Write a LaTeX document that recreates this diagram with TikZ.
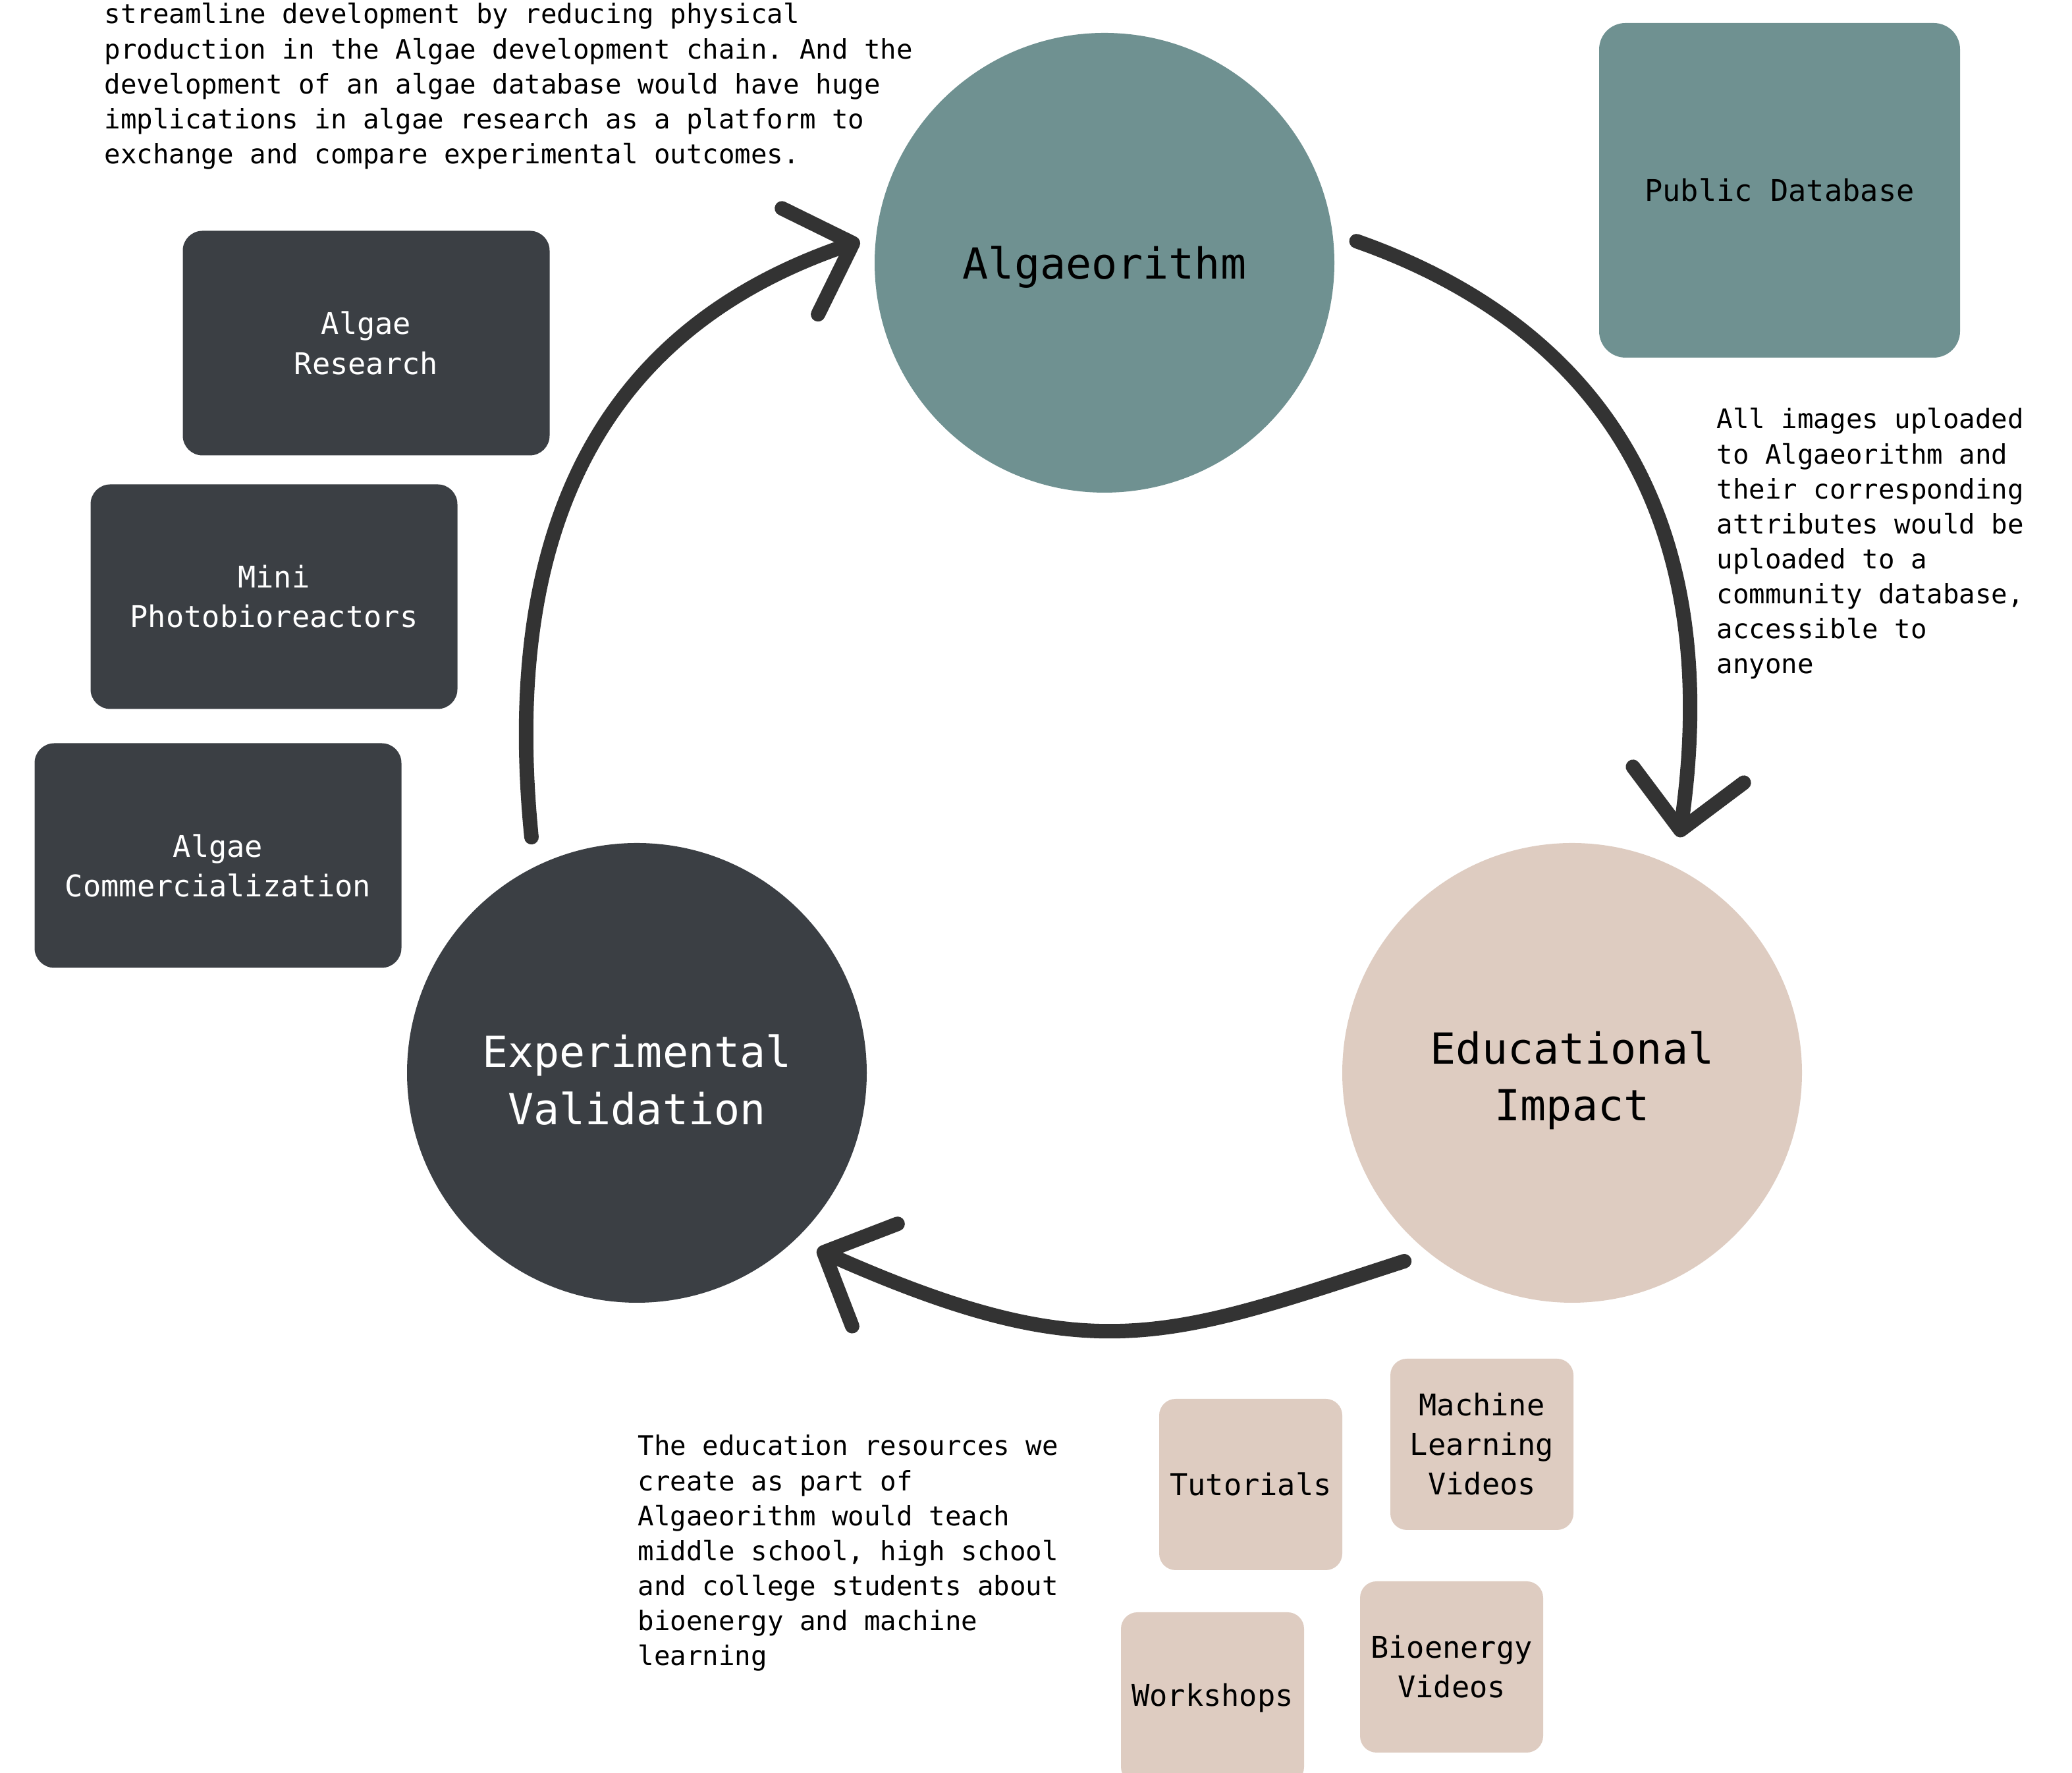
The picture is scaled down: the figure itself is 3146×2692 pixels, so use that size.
\documentclass[tikz,border=0pt]{standalone}
\usepackage{fontspec}
\setmainfont{DejaVu Sans Mono}
\usetikzlibrary{arrows.meta,calc}
\definecolor{algteal}{RGB}{111,145,145}
\definecolor{slate}{RGB}{59,63,68}
\definecolor{sand}{RGB}{222,204,193}
\definecolor{ink}{RGB}{51,51,51}
\begin{document}
\begin{tikzpicture}[x=0.1mm, y=0.1mm, line join=round, line cap=round,
		>={Straight Barb[length=8.5mm, width=17mm, round]},
		bubble/.style={circle, minimum size=69.8mm, inner sep=0pt, align=center, text depth=0pt, font=\fontsize{18.5}{24.5}\selectfont},
		card/.style={rounded corners=3mm, minimum width=55.7mm, minimum height=34.1mm, inner sep=0pt, align=center, font=\fontsize{12.9}{17.1}\selectfont},
		tile/.style={card, fill=sand, rounded corners=2.5mm, minimum width=27.8mm, minimum height=26mm},
		note/.style={anchor=base west, text width=13cm, align=left, inner sep=0pt, font=\fontsize{11.6}{15.1}\selectfont,
			execute at begin node={\frenchspacing\spaceskip=\fontdimen2\font\xspaceskip=\fontdimen2\font}},
		flow/.style={->, line width=2.2mm, draw=ink}]
	\useasboundingbox (0,0) rectangle (3146,2692);
	\clip (0,0) rectangle (3146,2692);
	\node[bubble, fill=algteal] (alg) at (1677,2293) {Algaeorithm};
	\node[bubble, fill=slate, text=white] (val) at (967,1063) {\rule{0pt}{7mm}Experimental\\Validation};
	\node[bubble, fill=sand] (edu) at (2387,1063) {\rule{0pt}{5.9mm}Educational\\Impact};
	\node[card, fill=algteal, minimum width=54.8mm, minimum height=50.8mm, rounded corners=4mm] (pub) at (2702,2403) {Public Database};
	\node[card, fill=slate, text=white] (res) at (556,2171) {Algae\\Research};
	\node[card, fill=slate, text=white] (mini) at (416,1786) {Mini\\Photobioreactors};
	\node[card, fill=slate, text=white] (comm) at (331,1393) {\rule{0pt}{6.6mm}Algae\\Commercialization};
	\node[tile] (tut) at (1899,438) {Tutorials};
	\node[tile] (mlv) at (2250,499) {Machine\\Learning\\Videos};
	\node[tile] (work) at (1841,114) {Workshops};
	\node[tile] (bio) at (2204,161) {Bioenergy\\Videos};
	\node[note] (intro) at (158,2656) {streamline development by reducing physical\\production in the Algae development chain. And the\\development of an algae database would have huge\\implications in algae research as a platform to\\exchange and compare experimental outcomes.};
	\node[note] (dbtext) at (2606,2041) {All images uploaded\\to Algaeorithm and\\their corresponding\\attributes would be\\uploaded to a\\community database,\\accessible to\\anyone};
	\node[note] (edutext) at (968,482) {The education resources we\\create as part of\\Algaeorithm would teach\\middle school, high school\\and college students about\\bioenergy and machine\\learning};
	\coordinate (a1) at ($(val)+(114.1:392)$);
	\coordinate (a2) at ($(alg)+(174.9:373)$);
	\coordinate (b1) at ($(alg)+(4.9:384)$);
	\coordinate (b2) at ($(edu)+(65.5:393)$);
	\coordinate (c1) at ($(edu)+(228.3:383)$);
	\coordinate (c2) at ($(val)+(315.6:383)$);
	\draw[flow] (a1) .. controls +(-57,571) and +(-305,-104) .. (a2);
	\draw[flow] (b1) .. controls +(296,-104) and +(80,560) .. (b2);
	\draw[flow] (c1) .. controls +(-361,-117) and +(419,-186) .. (c2);
\end{tikzpicture}
\end{document}
